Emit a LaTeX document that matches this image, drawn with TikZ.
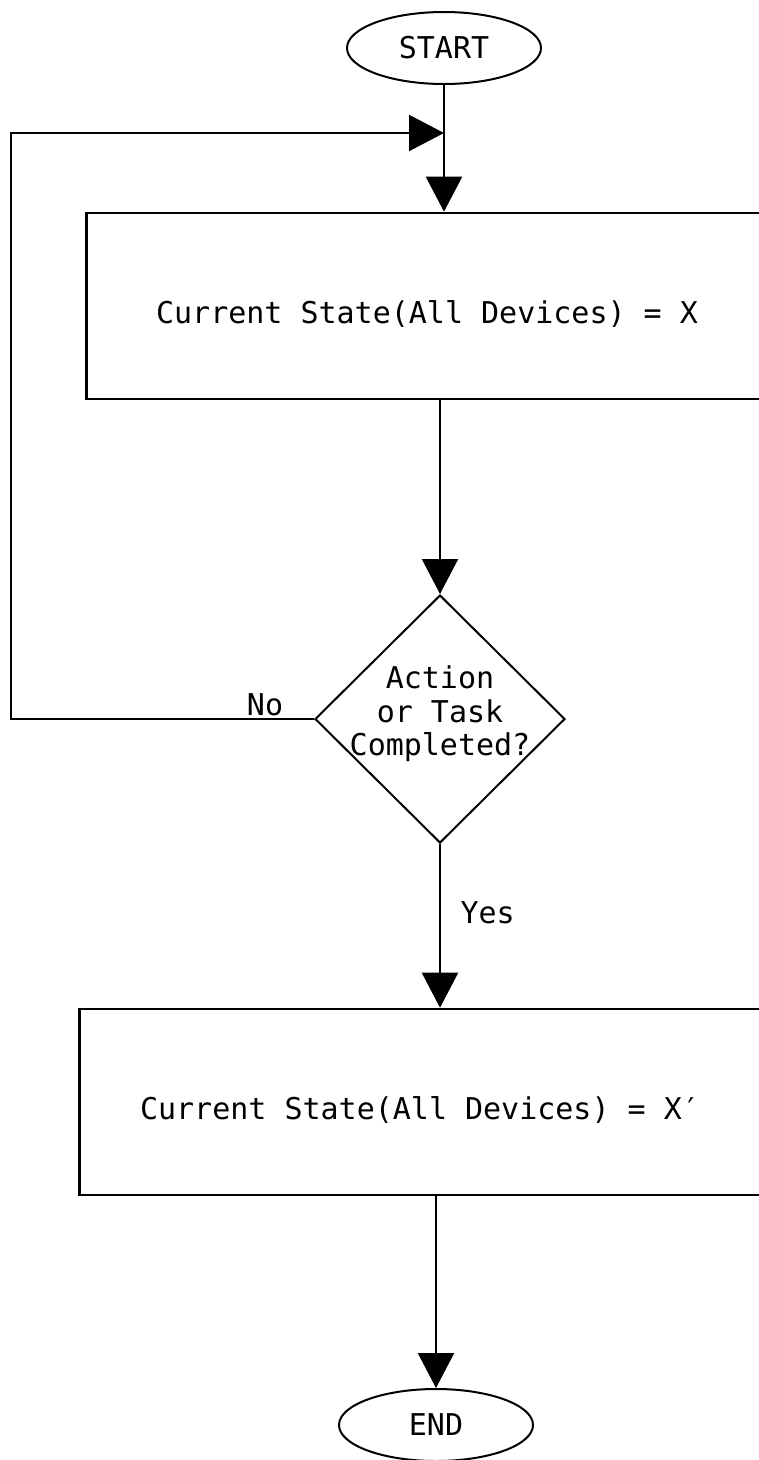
\documentclass[tikz,border=0pt]{standalone}
\usepackage{fontspec}
\newfontfamily\plotfont{DejaVu Sans Mono}
\usetikzlibrary{shapes.geometric,arrows.meta}

\tikzset{
  terminal/.style={draw, ellipse, line width=2pt, minimum width=194pt, minimum height=72pt, inner sep=0pt},
  statebox/.style={draw, rectangle, line width=2.6pt, minimum width=681pt, minimum height=186pt, text height=34pt, text depth=0pt},
  decision/.style={draw, diamond, line width=2pt, minimum width=250pt, minimum height=248pt, inner sep=0pt},
  flow/.style={line width=2.2pt, -{Triangle[length=35pt, width=36pt]}},
  lbl/.style={font=\plotfont\fontsize{30}{34}\selectfont}
}

\begin{document}
\begin{tikzpicture}[x=1pt, y=-1pt, every node/.style={lbl}]
    \useasboundingbox (0,0) rectangle (759,1460);
    \clip (0,0) rectangle (759,1460);

    % inicio y fin
    \node[terminal] (start) at (444,48) {START};
    \node[terminal] (end) at (436,1425) {END};

    % estados
    \node[statebox] (box1) at (427,306) {Current State(All Devices) = X};
    \node[statebox] (box2) at (420,1102) {Current State(All Devices) = X′};

    % decision
    \node[decision] (dec) at (440,719) {};
    \node[align=center, font=\plotfont\fontsize{30}{33.5}\selectfont] (dectext) at (440,714) {Action\\or Task\\Completed?};

    % retorno
    \coordinate (merge) at (444,133);
    \coordinate (loopx) at (11,133);

    % conectores
    \draw[flow] (start) -- (start |- box1.north);
    \draw[flow] (box1.south -| dec.north) -- (dec.north);
    \draw[flow] (dec.west) -- (dec.west -| loopx) |- (merge);
    \draw[flow] (dec.south) -- (dec.south |- box2.north);
    \draw[flow] (box2.south -| end.north) -- (end.north);

    % etiquetas
    \node[anchor=base] (nolbl) at (265,715) {No};
    \node[anchor=base west] (yeslbl) at (457,923) {Yes};
\end{tikzpicture}
\end{document}
